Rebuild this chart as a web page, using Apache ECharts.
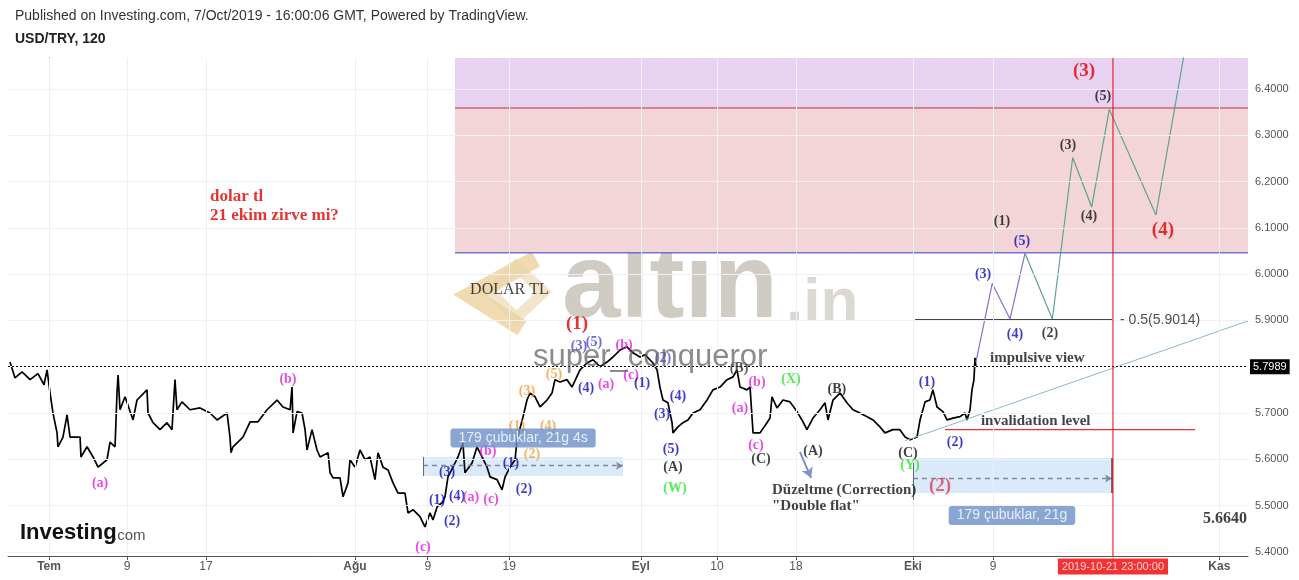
<!DOCTYPE html>
<html><head><meta charset="utf-8">
<script src="https://cdn.jsdelivr.net/npm/echarts@6/dist/echarts.min.js"></script>
<style>html,body{margin:0;padding:0;background:#fff;}#c{width:1299px;height:580px;}</style>
</head><body><div id="c"></div>
<script>
// ---- axis ticks (x in trading days since 1 Jul 2019) ----
const xTickValues = [0, 5.93, 11.94, 23.27, 28.8, 35.0, 45.0, 50.8, 56.8, 65.7, 71.8, 89.0];
const xTickLabels = ['Tem', '9', '17', 'Ağu', '9', '19', 'Eyl', '10', '18', 'Eki', '9', 'Kas'];
const yTickValues = [5.4, 5.5, 5.6, 5.7, 5.8, 5.9, 6.0, 6.1, 6.2, 6.3, 6.4];
const xRange = [-3.12, 91.18];
const yRange = [5.391, 6.467];

// ---- USD/TRY 120 price path [day, price] ----
const pricePath = [
[-2.97,5.810],[-2.59,5.776],[-2.05,5.789],[-1.44,5.772],[-0.84,5.785],[-0.38,5.761],[-0.15,5.793],[0.08,5.743],
[0.30,5.700],[0.61,5.657],[0.68,5.627],[1.06,5.648],[1.37,5.696],[1.60,5.648],[2.36,5.648],[2.43,5.605],
[2.89,5.627],[3.35,5.605],[3.73,5.583],[4.41,5.599],[4.64,5.637],[5.02,5.627],
[5.17,5.743],[5.25,5.782],[5.40,5.707],[5.78,5.735],[6.39,5.685],[6.69,5.728],[7.45,5.750],[7.53,5.700],
[7.91,5.679],[8.44,5.664],[8.97,5.679],[9.35,5.664],[9.58,5.772],[9.73,5.707],[10.11,5.724],[10.72,5.707],
[11.48,5.711],[12.24,5.700],[12.78,5.685],[13.54,5.700],[13.76,5.648],[13.84,5.614],[13.99,5.627],[14.75,5.648],
[15.29,5.681],[15.89,5.681],[16.58,5.707],[17.34,5.728],[17.79,5.713],[18.33,5.707],[18.48,5.756],[18.56,5.657],
[18.86,5.703],[19.24,5.700],[19.47,5.664],[19.62,5.620],[20.00,5.664],[20.38,5.620],[20.61,5.605],[21.22,5.614],
[21.37,5.571],[21.60,5.560],[22.13,5.560],[22.36,5.519],[22.74,5.549],[22.89,5.599],[23.27,5.583],[23.65,5.620],
[24.03,5.599],[24.41,5.605],[24.79,5.556],[25.02,5.614],[25.40,5.583],[25.78,5.577],[26.16,5.549],[26.54,5.527],
[27.07,5.527],[27.30,5.484],[27.68,5.491],[28.21,5.476],[28.59,5.454],[28.97,5.484],[29.20,5.469],[29.51,5.497],
[29.89,5.506],[30.11,5.519],[30.34,5.562],[30.72,5.583],[31.10,5.605],[31.48,5.635],[31.63,5.571],[32.17,5.592],
[32.55,5.627],[32.93,5.605],[33.31,5.583],[33.54,5.562],[34.07,5.556],[34.45,5.534],[34.68,5.562],[35.06,5.583],
[35.44,5.599],[35.59,5.642],[36.05,5.692],[36.35,5.728],[36.58,5.743],[36.96,5.735],[37.34,5.713],[37.87,5.728],
[38.25,5.743],[38.48,5.772],[38.86,5.767],[39.39,5.772],[39.77,5.756],
[40.38,5.793],[40.91,5.808],[41.37,5.815],[41.90,5.800],[42.43,5.810],[42.89,5.821],[43.42,5.836],[43.95,5.843],
[44.41,5.830],[44.94,5.821],[45.32,5.826],[45.93,5.808],[46.24,5.793],[46.46,5.756],[46.69,5.728],[47.07,5.722],
[47.38,5.679],[47.45,5.657],[47.83,5.670],[48.21,5.679],[48.59,5.685],[48.97,5.700],[49.51,5.707],[50.04,5.728],
[50.49,5.750],[51.03,5.756],[51.56,5.772],[52.02,5.778],[52.32,5.793],[52.55,5.756],[53.08,5.750],[53.31,5.756],
[53.46,5.692],[53.54,5.657],[54.07,5.657],[54.60,5.679],[54.83,5.689],
[54.98,5.735],[55.36,5.711],[55.82,5.728],[56.35,5.724],[56.88,5.703],[57.34,5.681],[57.64,5.664],[58.10,5.689],
[58.63,5.707],[59.01,5.722],[59.24,5.685],[59.62,5.728],[60.15,5.743],[60.68,5.722],[61.14,5.707],[61.67,5.700],
[62.21,5.692],[62.66,5.685],[63.19,5.670],[63.57,5.657],[64.18,5.664],[64.71,5.664],[65.10,5.648],[65.48,5.642],
[66.01,5.648],[66.24,5.685],[66.62,5.724],[66.99,5.728],[67.22,5.750],[67.53,5.713],[67.98,5.703],[68.29,5.685],
[68.75,5.689],[69.28,5.692],[69.66,5.700],[69.81,5.685],[70.04,5.707],[70.19,5.750],[70.34,5.772],[70.42,5.819],[70.49,5.799]
];

// ---- projected waves ----
const impulsePath = [[70.49,5.810],[71.73,5.980],[73.08,5.903],[74.22,6.045]];
const projectionPath = [[74.22,6.045],[76.30,5.903],[77.85,6.252],[79.29,6.145],[80.63,6.356],[84.18,6.128],[86.60,6.520]];
const trendLine = [[65.10,5.640],[91.18,5.899]];

// ---- levels ----
const zoneStartDay = 30.87;
const zoneUpper = 6.359;   // red line
const zoneLower = 6.046;   // blue line
const lastPrice = 5.7989;
const fibLevel = 5.9014;
const fibSpan = [65.86, 80.84];
const invalidation = 5.664;
const invalidationSpan = [68.14, 87.15];
const markerDay = 80.91;
const markerLabel = '2019-10-21 23:00:00';
// date ranges: [startDay, endDay, low, high, arrowLevel]
const range1 = [28.44, 43.65, 5.564, 5.605, 5.586];
const range2 = [65.70, 80.84, 5.527, 5.603, 5.5585];
const rangeTags = [[36.05, 5.646, '179 çubuklar, 21g 4s'], [73.23, 5.4786, '179 çubuklar, 21g']];
const correctionArrow = [[57.11, 5.616], [57.95, 5.560]];

// ---- Elliott wave labels [day, price, text, colour] ----
const waveLabels = [
[3.88,5.547,'(a)','m'],[18.17,5.772,'(b)','m'],[28.44,5.410,'(c)','m'],
[29.51,5.512,'(1)','b'],[30.65,5.465,'(2)','b'],[30.27,5.571,'(3)','b'],[31.03,5.519,'(4)','b'],
[32.09,5.517,'(a)','m'],[33.38,5.616,'(b)','m'],[33.61,5.514,'(c)','m'],
[35.13,5.592,'(1)','b'],[36.12,5.534,'(2)','b'],
[35.59,5.670,'(1)','o'],[36.73,5.610,'(2)','o'],[36.35,5.746,'(3)','o'],[37.95,5.670,'(4)','o'],[38.40,5.784,'(5)','o'],
[40.30,5.843,'(3)','lb'],[41.44,5.852,'(5)','lb'],[40.84,5.754,'(4)','b'],
[42.36,5.761,'(a)','m'],[43.73,5.847,'(b)','m'],[44.26,5.782,'(c)','m'],
[45.10,5.765,'(1)','b'],[46.69,5.819,'(2)','lb'],[46.62,5.698,'(3)','b'],[47.83,5.735,'(4)','b'],[47.30,5.622,'(5)','b'],
[47.45,5.583,'(A)','k'],[47.60,5.538,'(W)','g'],
[52.47,5.797,'(B)','gr'],[52.55,5.711,'(a)','m'],[53.84,5.767,'(b)','m'],[53.76,5.629,'(c)','m'],[54.14,5.599,'(C)','k'],
[56.43,5.772,'(X)','g'],[59.92,5.750,'(B)','k'],[58.10,5.616,'(A)','k'],[65.32,5.612,'(C)','k'],[65.48,5.586,'(Y)','g'],
[66.77,5.767,'(1)','b'],[68.90,5.637,'(2)','b'],
[71.03,6.000,'(3)','b'],[73.46,5.869,'(4)','b'],[73.99,6.070,'(5)','b'],
[72.47,6.115,'(1)','k'],[76.12,5.871,'(2)','k'],[77.49,6.279,'(3)','k'],[79.09,6.124,'(4)','k'],[80.15,6.383,'(5)','k']
];
const majorLabels = [[40.15,5.893,'(1)','r'],[78.71,6.439,'(3)','r'],[84.71,6.096,'(4)','r'],[67.76,5.543,'(2)','p']];
const labelColors = {m:'#e01ee0', b:'#0c0cc0', lb:'#4646dc', o:'#f0a040', g:'#2ee62e', k:'#111111', gr:'#333333', r:'#e00000', p:'#e0405a'};

// ---- text notes [day, price, text, style] ----
const notes = [
[12.24, 6.147, 'dolar tl\n21 ekim zirve mi?', 'red'],
[32.02, 5.966, 'DOLAR TL', 'plain'],
[71.56, 5.819, 'impulsive view', 'bold'],
[70.87, 5.683, 'invalidation level', 'bold'],
[54.98, 5.515, 'Düzeltme (Correction)\n"Double flat"', 'bold'],
[81.45, 5.901, '- 0.5(5.9014)', 'fib']
];
const closeNote = [91.1, 5.471, '5.6640'];

const serif = '"Liberation Serif","Times New Roman",serif';
const sans = 'Arial,"Liberation Sans",Helvetica,sans-serif';
const noteStyles = {
  red: {color:'#e00000', fontWeight:'bold', fontSize:17, lineHeight:19, fontFamily:serif},
  plain: {color:'#111', fontWeight:'normal', fontSize:16, fontFamily:serif},
  bold: {color:'#111', fontWeight:'bold', fontSize:15, lineHeight:16, fontFamily:serif},
  fib: {color:'#222', fontWeight:'normal', fontSize:14, fontFamily:sans}
};

function nearestTick(v){ let bi=0, bd=1e9; xTickValues.forEach((t,i)=>{const d=Math.abs(t-v); if(d<bd){bd=d;bi=i;}}); return bi; }

const chart = echarts.init(document.getElementById('c'), null, {renderer:'canvas'});

const gridMarks = yTickValues.map(v=>({yAxis:v})).concat(xTickValues.map(v=>({xAxis:v})));

function seg(a, b, endExtra){ return [{coord:a}, Object.assign({coord:b}, endExtra||{})]; }
function markSeries(z, lineStyle, data, extra){
  return Object.assign({type:'line', data:[], silent:true, z:z,
    markLine:{silent:true, symbol:'none', label:{show:false}, lineStyle:lineStyle, data:data}}, extra||{});
}
function plainLine(data, color, width, z){
  return {type:'line', data:data, symbol:'none', showSymbol:false, z:z, silent:true, clip:true,
    color:color, itemStyle:{color:color}, lineStyle:{color:color, width:width}};
}

const option = {
  animation:false,
  backgroundColor:'#fff',
  grid:{left:8, right:51, top:58, bottom:24, containLabel:false, outerBoundsMode:'none'},
  xAxis:{
    type:'value', min:xRange[0], max:xRange[1],
    axisLine:{show:true, onZero:false, lineStyle:{color:'#555', width:1}},
    axisTick:{show:true, customValues:xTickValues, length:4, lineStyle:{color:'#555'}},
    axisLabel:{customValues:xTickValues, color:'#555', fontSize:12, fontFamily:sans, margin:5,
      formatter:(v)=>{const t=xTickLabels[nearestTick(v)]; return isNaN(+t)?'{b|'+t+'}':t;},
      rich:{b:{fontWeight:'bold', color:'#555', fontSize:12, fontFamily:sans}}},
    splitLine:{show:false}
  },
  yAxis:{
    type:'value', position:'right', min:yRange[0], max:yRange[1], scale:true,
    axisLine:{show:true, lineStyle:{color:'#555', width:1}},
    axisTick:{show:true, customValues:yTickValues, length:4, lineStyle:{color:'#555'}},
    axisLabel:{customValues:yTickValues, color:'#555', fontSize:11, fontFamily:sans, margin:7,
      formatter:(v)=>v.toFixed(4)},
    splitLine:{show:false}
  },
  graphic:[
    {type:'text', left:15, top:9, z:10, style:{text:'Published on Investing.com, 7/Oct/2019 - 16:00:06 GMT, Powered by TradingView.', font:'14px '+sans, fill:'#333'}},
    {type:'text', left:15, top:32, z:10, style:{text:'USD/TRY, 120', font:'bold 14px '+sans, fill:'#222'}},
    {type:'polyline', z:0, shape:{points:[[536,259],[470,295],[522,328]]}, style:{stroke:'rgba(225,190,110,0.55)', lineWidth:17, fill:null, lineJoin:'miter'}},
    {type:'polygon', z:0, shape:{points:[[516,266],[544,292],[516,318],[490,292]]}, style:{stroke:'rgba(234,212,168,0.6)', lineWidth:11, fill:null}},
    {type:'text', z:0, style:{text:'altin', x:562, y:288, font:'bold 105px '+sans, fill:'rgba(190,185,172,0.72)', verticalAlign:'middle'}},
    {type:'text', z:0, style:{text:'.in', x:786, y:304, font:'bold 62px '+sans, fill:'rgba(205,201,192,0.7)', verticalAlign:'middle'}},
    {type:'text', z:50, style:{text:'super_conqueror', x:533, y:357, font:'31px '+sans, fill:'rgba(90,90,90,0.7)', verticalAlign:'middle'}},
    {type:'text', z:10, style:{text:'Investing', x:20, y:533, font:'bold 22px '+sans, fill:'#111', verticalAlign:'middle'}},
    {type:'text', z:10, style:{text:'.com', x:113, y:536, font:'15px '+sans, fill:'#555', verticalAlign:'middle'}}
  ],
  series:[
    // grid lines
    markSeries(0, {color:'#eef0f3', width:1, type:'solid'}, gridMarks),
    // zones and ranges
    {type:'line', data:[], silent:true, z:1,
      markArea:{silent:true, data:[
        [{coord:[zoneStartDay, zoneUpper], itemStyle:{color:'#e8d2f2'}}, {coord:[xRange[1], yRange[1]]}],
        [{coord:[zoneStartDay, zoneLower], itemStyle:{color:'#f3d5d8'}}, {coord:[xRange[1], zoneUpper]}],
        [{coord:[range1[0], range1[2]], itemStyle:{color:'rgba(176,208,245,0.45)'}}, {coord:[range1[1], range1[3]]}],
        [{coord:[range2[0], range2[2]], itemStyle:{color:'rgba(176,208,245,0.45)'}}, {coord:[range2[1], range2[3]]}]
      ]}},
    plainLine([[zoneStartDay, zoneUpper],[xRange[1], zoneUpper]], '#c0303a', 1, 2),
    plainLine([[zoneStartDay, zoneLower],[xRange[1], zoneLower]], '#3838d0', 1, 2),
    markSeries(2, {color:'#7d8aa0', width:1.3, type:[5,4]}, [
      seg([range1[0], range1[4]],[range1[1], range1[4]], {symbol:'arrow', symbolSize:[6,7]}),
      seg([range2[0], range2[4]],[range2[1], range2[4]], {symbol:'arrow', symbolSize:[6,7]})]),
    markSeries(2, {color:'#5a6a85', width:1, type:'solid'}, [
      seg([range1[0], range1[2]],[range1[0], range1[3]]),
      seg([range2[0], 5.5123],[range2[0], 5.5922])]),
    markSeries(2, {color:'#444', width:1.5, type:'solid'}, [seg([range2[1], range2[2]],[range2[1], range2[3]])]),
    // price
    {type:'line', name:'USD/TRY', data:pricePath, showSymbol:false, symbol:'none', z:3, silent:true,
      lineStyle:{color:'#000', width:1.7}, clip:true},
    // last price dotted line + tag
    {type:'line', data:[], silent:true, z:4,
      markLine:{silent:true, symbol:'none', lineStyle:{color:'#000', width:1, type:[2,2]},
        label:{show:true, position:'end', distance:2, formatter:'5.7989', color:'#fff', backgroundColor:'#000', padding:[2,3,2,3], fontSize:11, fontFamily:sans},
        data:[{yAxis:lastPrice}]}},
    // red time marker line and its tag below the axis
    plainLine([[markerDay, yRange[0]],[markerDay, yRange[1]]], '#ee0000', 1, 6),
    {type:'scatter', z:9, silent:true, symbolSize:1, itemStyle:{color:'rgba(0,0,0,0)'}, clip:false,
      label:{show:true, position:'bottom', distance:2, formatter:markerLabel, color:'#fff', backgroundColor:'#f00000', padding:[3,4,2,4], fontSize:11, fontFamily:sans},
      data:[[markerDay, yRange[0]]]},
    plainLine([[fibSpan[0], fibLevel],[fibSpan[1], fibLevel]], '#000000', 1, 4),
    plainLine([[invalidationSpan[0], invalidation],[invalidationSpan[1], invalidation]], '#e83030', 1.2, 4),
    markSeries(4, {color:'#7d93c7', width:2, type:'solid'}, [seg(correctionArrow[0], correctionArrow[1], {symbol:'arrow', symbolSize:[9,10]})]),
    plainLine(trendLine, '#86bfae', 1, 4),
    plainLine(impulsePath, '#7676d6', 1.2, 4),
    plainLine(projectionPath, '#5da38b', 1.2, 4),
    // wave labels
    {type:'scatter', z:7, silent:true, symbolSize:1, itemStyle:{color:'rgba(0,0,0,0)'},
      label:{show:true, position:'inside', fontFamily:serif, fontWeight:'bold', fontSize:14},
      data:waveLabels.map(w=>({value:[w[0],w[1]], label:{formatter:w[2], color:labelColors[w[3]]}}))},
    {type:'scatter', z:7, silent:true, symbolSize:1, itemStyle:{color:'rgba(0,0,0,0)'},
      label:{show:true, position:'inside', fontFamily:serif, fontWeight:'bold', fontSize:19},
      data:majorLabels.map(w=>({value:[w[0],w[1]], label:{formatter:w[2], color:labelColors[w[3]]}}))},
    // notes
    {type:'scatter', z:7, silent:true, symbolSize:1, itemStyle:{color:'rgba(0,0,0,0)'},
      label:{show:true, position:'inside', align:'left', verticalAlign:'middle'},
      data:notes.map(n=>({value:[n[0],n[1]], label:Object.assign({formatter:n[2]}, noteStyles[n[3]])})).concat([
        {value:[closeNote[0], closeNote[1]], label:{formatter:closeNote[2], align:'right', color:'#111', fontWeight:'bold', fontSize:16, fontFamily:serif}}
      ])},
    // range tags
    {type:'scatter', z:8, silent:true, symbolSize:1, itemStyle:{color:'rgba(0,0,0,0)'},
      label:{show:true, position:'inside', color:'#fff', fontSize:14, fontFamily:sans, backgroundColor:'#6b90c8', borderRadius:3, padding:[3,8,2,8]},
      data:rangeTags.map(t=>({value:[t[0],t[1]], label:{formatter:t[2]}}))}
  ]
};
chart.setOption(option);
</script></body></html>
